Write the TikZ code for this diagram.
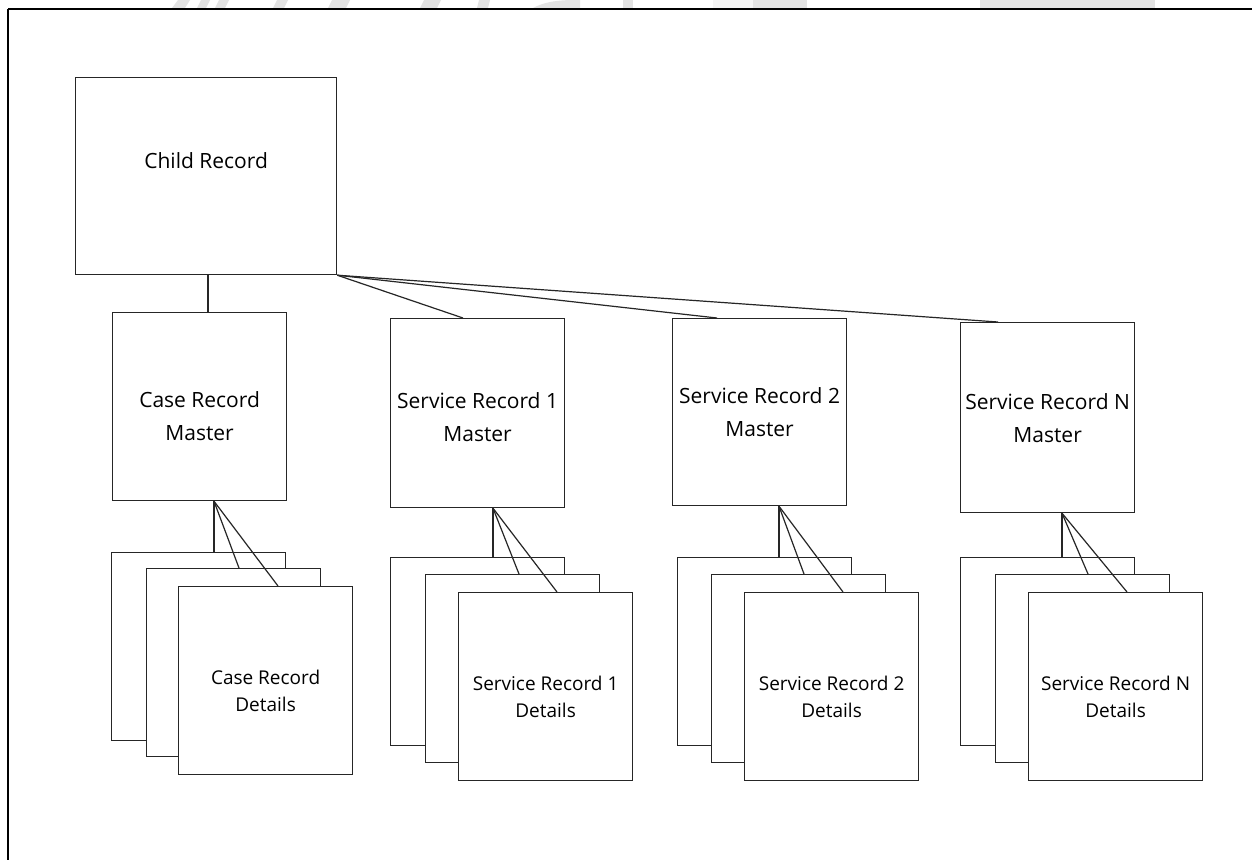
\documentclass[tikz,border=0pt]{standalone}
\usepackage{fontspec}
\setmainfont{Open Sans}
\usetikzlibrary{positioning}

\tikzset{
  rec/.style={draw=black!85, line width=1.2pt, fill=white, anchor=north west,
    inner sep=0pt, minimum width=174pt, minimum height=188pt},
  txt/.style={align=center, text=black, font=\fontsize{21}{33}\selectfont},
  dtxt/.style={align=center, text=black, font=\fontsize{19}{27}\selectfont},
  link/.style={draw=black!85, line width=1.2pt},
  wmark/.style={fill=black!11}
}

\begin{document}
\begin{tikzpicture}[x=1pt,y=-1pt]
  \fill[white] (0,0) rectangle (1252,860);
  \useasboundingbox (0,0) rectangle (1252,860);

  % watermark strip above the frame
  \fill[wmark] (172,8) -- (178,0) -- (190,0) -- (185,8) -- cycle;
  \fill[wmark] (197,8) -- (201,0) -- (210,0) -- (206,8) -- cycle;
  \fill[wmark] (215,8) -- (219,0) -- (229,0) -- (225,8) -- cycle;
  \fill[wmark] (273,8) -- (277,0) -- (288,0) -- (284,8) -- cycle;
  \fill[wmark] (328,8) -- (332,0) -- (350,0) -- (346,8) -- cycle;
  \fill[wmark] (420,8) -- (424,0) -- (441,0) -- (437,8) -- cycle;
  \fill[wmark] (477,8) -- (479,0) -- (490,0) -- (488,8) -- cycle;
  \fill[wmark] (533,8) .. controls (548,0) and (565,0) .. (580,0) -- (580,8) -- cycle;
  \fill[wmark] (623,0) rectangle (633,8);
  \fill[black!4] (713,0) rectangle (753,8);
  \fill[wmark] (753,0) rectangle (807,8);
  \fill[wmark] (980,0) rectangle (1155,8);

  % frame
  \draw[line width=1.5pt] (8,9) -- (8,860);
  \draw[line width=2.5pt] (8,9) -- (1252,9);

  % child record
  \node[rec, minimum width=261pt, minimum height=197pt] (child) at (75,77) {};
  \node[txt] (childtxt) at ([yshift=15pt]child.center) {Child Record};

  % masters
  \node[rec] (cm) at (112,312) {};
  \node[rec, minimum height=189pt] (sam) at (390,318) {};
  \node[rec, minimum height=187pt] (sbm) at (672,318) {};
  \node[rec, minimum height=190pt] (snm) at (960,322) {};
  \node[txt] (cmtxt) at ([yshift=-10pt]cm.center) {Case Record\\Master};
  \node[txt] (samtxt) at ([yshift=-4pt]sam.center) {Service Record 1\\Master};
  \node[txt] (sbmtxt) at (sbm.center) {Service Record 2\\Master};
  \node[txt] (snmtxt) at ([yshift=-1pt]snm.center) {Service Record N\\Master};

  % case record details
  \node[rec] (cb) at (111,552) {};
  \node[rec] (cmid) at (146,568) {};
  \node[rec] (cf) at (178,586) {};
  \node[dtxt] (cftxt) at ([yshift=-10pt]cf.center) {Case Record\\Details};

  % service record 1 details
  \node[rec] (sab) at (390,557) {};
  \node[rec] (samid) at (425,574) {};
  \node[rec] (saf) at (458,592) {};
  \node[dtxt] (saftxt) at ([yshift=-10pt]saf.center) {Service Record 1\\Details};

  % service record 2 details
  \node[rec] (sbb) at (677,557) {};
  \node[rec] (sbmid) at (711,574) {};
  \node[rec] (sbf) at (744,592) {};
  \node[dtxt] (sbftxt) at ([yshift=-10pt]sbf.center) {Service Record 2\\Details};

  % service record N details
  \node[rec] (snb) at (960,557) {};
  \node[rec] (snmid) at (995,574) {};
  \node[rec] (snf) at (1028,592) {};
  \node[dtxt] (snftxt) at ([yshift=-10pt]snf.center) {Service Record N\\Details};

  % child to masters
  \draw[link] ([xshift=96pt]cm.north west) -- ([xshift=96pt]cm.north west |- child.south);
  \draw[link] (child.south east) -- ([xshift=73pt]sam.north west);
  \draw[link] (child.south east) -- ([xshift=45pt]sbm.north west);
  \draw[link] (child.south east) -- ([xshift=38pt]snm.north west);

  % masters to details
  \draw[link] ([xshift=102pt]cm.south west) -- ([xshift=102pt]cm.south west |- cb.north);
  \draw[link] ([xshift=102pt]cm.south west) -- ([xshift=93pt]cmid.north west);
  \draw[link] ([xshift=102pt]cm.south west) -- ([xshift=100pt]cf.north west);

  \draw[link] ([xshift=103pt]sam.south west) -- ([xshift=103pt]sam.south west |- sab.north);
  \draw[link] ([xshift=103pt]sam.south west) -- ([xshift=94pt]samid.north west);
  \draw[link] ([xshift=103pt]sam.south west) -- ([xshift=99pt]saf.north west);

  \draw[link] ([xshift=107pt]sbm.south west) -- ([xshift=107pt]sbm.south west |- sbb.north);
  \draw[link] ([xshift=107pt]sbm.south west) -- ([xshift=93pt]sbmid.north west);
  \draw[link] ([xshift=107pt]sbm.south west) -- ([xshift=99pt]sbf.north west);

  \draw[link] ([xshift=102pt]snm.south west) -- ([xshift=102pt]snm.south west |- snb.north);
  \draw[link] ([xshift=102pt]snm.south west) -- ([xshift=93pt]snmid.north west);
  \draw[link] ([xshift=102pt]snm.south west) -- ([xshift=99pt]snf.north west);
\end{tikzpicture}
\end{document}
